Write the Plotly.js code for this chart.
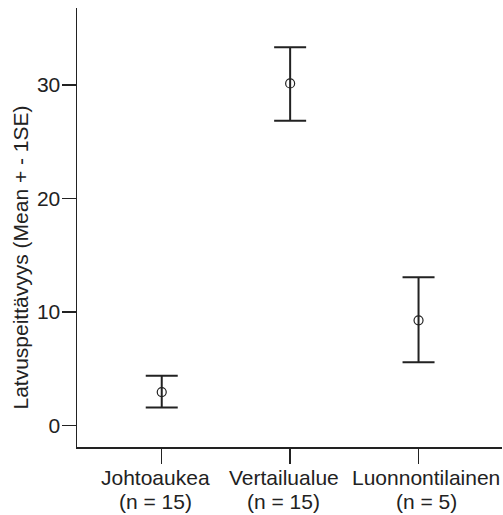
<!DOCTYPE html>
<html>
<head>
<meta charset="utf-8">
<script src="https://cdn.plot.ly/plotly-3.0.1.min.js"></script>
<style>html,body{margin:0;padding:0;background:#fff;}#chart{width:503px;height:515px;}</style>
</head>
<body>
<div id="chart"></div>
<script>
var categories = ["Johtoaukea", "Vertailualue", "Luonnontilainen"];
var sampleSizes = ["(n = 15)", "(n = 15)", "(n = 5)"];
var means = [2.94, 30.15, 9.27];
var errPlus = [1.45, 3.2, 3.8];
var errMinus = [1.35, 3.3, 3.7];
var yTickVals = [0, 10, 20, 30];

var ink = '#222222';
var font = 'Liberation Sans, Arial, Helvetica, sans-serif';
var labelShift = [-6.5, -6.5, 7.5];

var trace = {
  type: 'scatter',
  mode: 'markers',
  x: [0, 1, 2],
  y: means,
  marker: {symbol: 'circle-open', size: 9, color: ink, line: {width: 1.2, color: ink}},
  error_y: {type: 'data', symmetric: false, array: errPlus, arrayminus: errMinus,
            color: ink, thickness: 2, width: 16},
  hoverinfo: 'y',
  showlegend: false
};

var annotations = [{
  text: 'Latvuspeittävyys (Mean + - 1SE)',
  xref: 'paper', yref: 'paper', x: -0.134, y: 0.4317,
  xanchor: 'center', yanchor: 'middle', textangle: -90, showarrow: false,
  font: {family: font, size: 21, color: ink}
}];
categories.forEach(function (c, i) {
  annotations.push({
    text: c, xref: 'x', yref: 'paper', x: i, y: 0, yshift: -30, xshift: labelShift[i],
    xanchor: 'center', yanchor: 'middle', showarrow: false,
    font: {family: font, size: 21, color: ink}
  });
  annotations.push({
    text: sampleSizes[i], xref: 'x', yref: 'paper', x: i, y: 0, yshift: -54, xshift: labelShift[i],
    xanchor: 'center', yanchor: 'middle', showarrow: false,
    font: {family: font, size: 21, color: ink}
  });
});

var layout = {
  width: 503, height: 515,
  margin: {l: 77, r: 1, t: 8, b: 68, pad: 0},
  paper_bgcolor: '#ffffff', plot_bgcolor: '#ffffff',
  font: {family: font, size: 21, color: ink},
  xaxis: {
    range: [-0.66, 2.65],
    tickmode: 'array', tickvals: [0, 1, 2], showticklabels: false,
    showgrid: false, zeroline: false, showline: true, linecolor: ink, linewidth: 1.5,
    ticks: 'outside', ticklen: 15, tickwidth: 1.5, tickcolor: ink
  },
  yaxis: {
    range: [-1.9, 36.8],
    tickmode: 'array', tickvals: yTickVals, ticktext: yTickVals.map(String),
    showgrid: false, zeroline: false, showline: true, linecolor: ink, linewidth: 1.5,
    ticks: 'outside', ticklen: 14, tickwidth: 1.5, tickcolor: ink,
    tickfont: {family: font, size: 21, color: ink},
    ticklabelstandoff: -3
  },
  annotations: annotations
};

Plotly.newPlot('chart', [trace], layout, {displayModeBar: false, staticPlot: true});
</script>
</body>
</html>
